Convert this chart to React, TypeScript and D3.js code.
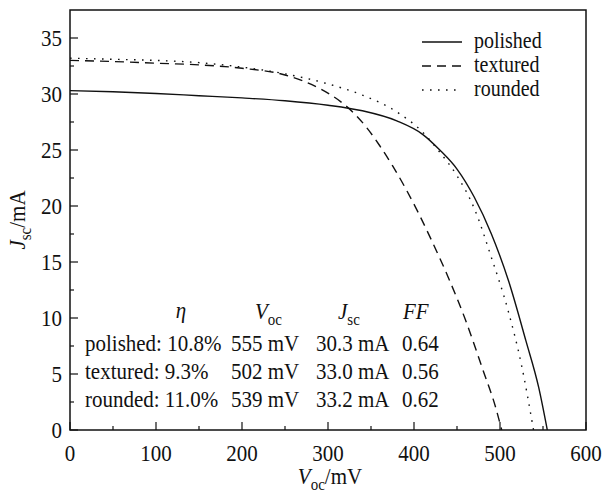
import React from 'react'
import * as d3 from 'd3'

// readings from the J-V curves
const polishedV = [0, 50, 100, 150, 200, 250, 300, 340, 380, 410, 430, 450, 470, 490, 510, 530, 545, 555]
const polishedJ = [30.3, 30.2, 30.05, 29.85, 29.65, 29.4, 29.0, 28.5, 27.6, 26.4, 25.0, 23.3, 20.8, 17.5, 13.3, 8.0, 3.8, 0]

const texturedV = [0, 50, 100, 150, 200, 250, 290, 315, 330, 345, 360, 375, 390, 405, 420, 440, 460, 480, 495, 502]
const texturedJ = [33.0, 32.9, 32.75, 32.6, 32.3, 31.7, 30.5, 29.3, 28.3, 27.0, 25.4, 23.6, 21.6, 19.4, 17.0, 13.6, 9.8, 5.4, 2.0, 0]

const roundedV = [0, 50, 100, 150, 200, 250, 300, 340, 380, 410, 430, 450, 470, 490, 510, 525, 539]
const roundedJ = [33.2, 33.1, 33.0, 32.8, 32.4, 31.8, 30.9, 29.9, 28.4, 26.6, 24.8, 22.7, 19.8, 15.4, 10.5, 5.8, 0]

const seriesNames = ['polished', 'textured', 'rounded']
const seriesDash = ['none', '9 6', '1.6 6.4']

const xTicks = [0, 100, 200, 300, 400, 500, 600]
const yTicks = [0, 5, 10, 15, 20, 25, 30, 35]

// table printed inside the plot
const tableLabels = ['polished: 10.8%', 'textured: 9.3%', 'rounded: 11.0%']
const tableVoc = ['555 mV', '502 mV', '539 mV']
const tableJsc = ['30.3 mA', '33.0 mA', '33.2 mA']
const tableFF = ['0.64', '0.56', '0.62']

const font = '"Liberation Serif", "Times New Roman", serif'
const stretch = 1.12

// text drawn a bit taller than wide, like the scanned figure
const T = ({ x, y, anchor = 'start', size = 21, italic = false, children }: any) => (
  <g transform={`translate(${x},${y}) scale(1,${stretch})`}>
    <text x={0} y={0} textAnchor={anchor} fontSize={size} fontStyle={italic ? 'italic' : 'normal'}>{children}</text>
  </g>
)

export default function App() {
  const left = 70
  const right = 586
  const top = 10
  const bottom = 430

  const x = d3.scaleLinear().domain([0, 600]).range([left, right])
  const y = d3.scaleLinear().domain([0, 37.5]).range([bottom, top])

  const line = d3.line<[number, number]>()
    .x(d => x(d[0]))
    .y(d => y(d[1]))
    .curve(d3.curveMonotoneX)

  const series = [
    d3.zip(polishedV, polishedJ) as [number, number][],
    d3.zip(texturedV, texturedJ) as [number, number][],
    d3.zip(roundedV, roundedJ) as [number, number][],
  ]

  const xMinor = d3.range(50, 600, 100)
  const yMinor = d3.range(2.5, 37.5, 5)

  const colX = [85, 231, 316, 402]
  const rowY = [351, 379, 407]

  return (
    <svg width={604} height={497} style={{ display: 'block', position: 'absolute', left: 0, top: 0 }}
      fontFamily={font} fill="#111">
      <defs>
        <clipPath id="plot">
          <rect x={left} y={top} width={right - left} height={bottom - top} />
        </clipPath>
      </defs>
      <rect width={604} height={497} fill="#fff" />

      {/* ticks, pointing inward */}
      {xTicks.map(t => (
        <line key={'xt' + t} x1={x(t)} x2={x(t)} y1={bottom} y2={bottom - 8} stroke="#111" strokeWidth={1.2} />
      ))}
      {xMinor.map(t => (
        <line key={'xm' + t} x1={x(t)} x2={x(t)} y1={bottom} y2={bottom - 4} stroke="#111" strokeWidth={1.2} />
      ))}
      {yTicks.map(t => (
        <line key={'yt' + t} x1={left} x2={left + 8} y1={y(t)} y2={y(t)} stroke="#111" strokeWidth={1.2} />
      ))}
      {yMinor.map(t => (
        <line key={'ym' + t} x1={left} x2={left + 4} y1={y(t)} y2={y(t)} stroke="#111" strokeWidth={1.2} />
      ))}

      {xTicks.map(t => (
        <T key={'xl' + t} x={x(t)} y={461} anchor="middle">{t}</T>
      ))}
      {yTicks.map(t => (
        <T key={'yl' + t} x={62} y={y(t) + 8} anchor="end">{t}</T>
      ))}

      {/* curves */}
      <g clipPath="url(#plot)">
        {series.map((s, i) => (
          <path key={seriesNames[i]} d={line(s) || ''} fill="none" stroke="#111"
            strokeWidth={1.4} strokeDasharray={seriesDash[i]} />
        ))}
      </g>

      {/* frame */}
      <rect x={left} y={top} width={right - left} height={bottom - top} fill="none" stroke="#111" strokeWidth={1.5} />

      {/* legend */}
      {seriesNames.map((n, i) => (
        <g key={'lg' + n}>
          <line x1={422} x2={462} y1={42 + i * 24} y2={42 + i * 24} stroke="#111" strokeWidth={1.4}
            strokeDasharray={seriesDash[i]} />
          <T x={474} y={48 + i * 24} size={20}>{n}</T>
        </g>
      ))}

      {/* table header */}
      <T x={181} y={318} anchor="middle" italic>η</T>
      <T x={255} y={319}>
        <tspan fontStyle="italic">V</tspan>
        <tspan fontSize={15} dy={5}>oc</tspan>
      </T>
      <T x={338} y={319}>
        <tspan fontStyle="italic">J</tspan>
        <tspan fontSize={15} dy={5}>sc</tspan>
      </T>
      <T x={403} y={319} italic>FF</T>

      {/* table rows */}
      {tableLabels.map((lab, i) => (
        <g key={'row' + i}>
          <T x={colX[0]} y={rowY[i]}>{lab}</T>
          <T x={colX[1]} y={rowY[i]}>{tableVoc[i]}</T>
          <T x={colX[2]} y={rowY[i]}>{tableJsc[i]}</T>
          <T x={colX[3]} y={rowY[i]}>{tableFF[i]}</T>
        </g>
      ))}

      {/* axis titles */}
      <T x={330} y={484} anchor="middle">
        <tspan fontStyle="italic">V</tspan>
        <tspan fontSize={15} dy={5}>oc</tspan>
        <tspan dy={-5}>/mV</tspan>
      </T>
      <g transform={`translate(25,220) rotate(-90) scale(1,${stretch})`}>
        <text x={0} y={0} textAnchor="middle" fontSize={21}>
          <tspan fontStyle="italic">J</tspan>
          <tspan fontSize={15} dy={5}>sc</tspan>
          <tspan dy={-5}>/mA</tspan>
        </text>
      </g>
    </svg>
  )
}
